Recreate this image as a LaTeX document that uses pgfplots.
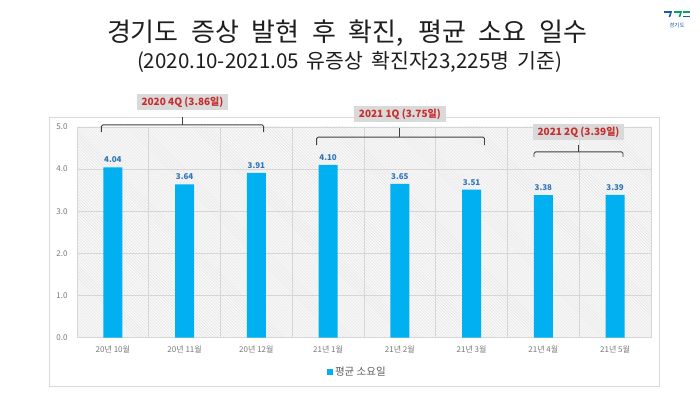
\documentclass[border=0pt]{standalone}
\usepackage{fontspec}
\setmainfont{Noto Sans CJK KR}
\usepackage{pgfplots}
\pgfplotsset{compat=1.18}
\usetikzlibrary{patterns}
\definecolor{barblue}{RGB}{0,176,240}
\definecolor{valblue}{RGB}{46,117,182}
\definecolor{qred}{RGB}{200,45,45}
\definecolor{boxgray}{RGB}{217,217,217}
\definecolor{gridgray}{RGB}{214,214,214}
\definecolor{framegray}{RGB}{217,217,217}
\definecolor{tickgray}{RGB}{120,120,120}
\definecolor{titlegray}{RGB}{30,30,30}
\definecolor{bggray}{RGB}{248,248,248}
\definecolor{hatchgray}{RGB}{226,226,226}
\definecolor{logoblue}{RGB}{30,90,170}
\definecolor{logogreen}{RGB}{0,165,100}
\begin{document}
\begin{tikzpicture}
\path[use as bounding box] (0,0) rectangle (700bp,394bp);
\fill[white] (0,0) rectangle (700bp,394bp);
\draw[framegray, fill=white, line width=0.8bp] (49bp,8bp) rectangle (659bp,277bp);
% title
\node[font=\fontsize{26bp}{28bp}\selectfont, text=titlegray, inner sep=0pt] at (347bp,361bp) {\makebox[480bp][s]{경기도 증상 발현 후 확진, 평균 소요 일수}};
\node[font=\fontsize{20.5bp}{22bp}\selectfont, text=titlegray, inner sep=0pt] at (349.5bp,332bp) {\makebox[425bp][s]{(2020.10-2021.05 유증상 확진자23,225명 기준)}};
% logo
\draw[logoblue, line width=1.6bp] (664bp,382bp) -- (671bp,382bp) -- (669.5bp,377bp);
\draw[logogreen, line width=1.6bp] (674bp,382bp) -- (681bp,382bp) -- (679.5bp,377bp);
\draw[logogreen, line width=1.6bp] (683bp,382bp) -- (690bp,382bp);
\draw[logoblue, line width=1.6bp] (683bp,377.5bp) -- (690bp,377.5bp);
\node[font=\fontsize{5.5bp}{6bp}\selectfont, text=logoblue, inner sep=0pt] at (677bp,369bp) {경기도};
\begin{axis}[
  at={(77bp,56.5bp)}, anchor=south west,
  scale only axis, width=574bp, height=210.5bp,
  xmin=-0.5, xmax=7.5, ymin=0, ymax=5,
  ybar, bar width=19bp, clip=false,
  xtick={0,...,7},
  xticklabels={20년 10월,20년 11월,20년 12월,21년 1월,21년 2월,21년 3월,21년 4월,21년 5월},
  minor xtick={0.5,1.5,...,6.5},
  ytick={0,...,5},
  major tick length=0pt, minor tick length=0pt,
  xminorgrids, ymajorgrids,
  grid style={gridgray, line width=0.6bp},
  minor grid style={gridgray, line width=0.6bp},
  axis line style={gridgray, line width=0.6bp},
  axis background/.style={fill=bggray, postaction={pattern=north west lines, pattern color=hatchgray}},
  yticklabel style={font=\fontsize{8bp}{9bp}\selectfont, text=tickgray, xshift=-6bp,
    /pgf/number format/.cd, fixed, fixed zerofill, precision=1, assume math mode=true},
  xticklabel style={font=\fontsize{8bp}{9bp}\selectfont, text=tickgray, yshift=-5bp},
  nodes near coords={\pgfmathprintnumber[fixed,fixed zerofill,precision=2,assume math mode=true]{\pgfplotspointmeta}},
  nodes near coords style={font=\bfseries\fontsize{8bp}{9bp}\selectfont, text=valblue, yshift=1bp},
  legend style={at={(axis description cs:0.488,-0.164)}, anchor=center, draw=none, fill=none,
    font=\fontsize{10.5bp}{12bp}\selectfont, text=tickgray!80!black},
  legend image code/.code={\fill[barblue] (0bp,-3bp) rectangle (6.5bp,3.5bp);},
]
\addplot[fill=barblue, draw=none] coordinates {(0,4.04) (1,3.64) (2,3.91) (3,4.10) (4,3.65) (5,3.51) (6,3.38) (7,3.39)};
\addlegendentry{평균 소요일}
\tikzset{brk/.style={draw=black!75, line width=0.9bp, rounded corners=1.5bp},
  qlab/.style={fill=boxgray, text=qred, font=\bfseries\fontsize{10bp}{12bp}\selectfont, inner xsep=5bp, inner ysep=2.5bp}}
\draw[brk] (axis cs:-0.16,4.88) -- (axis cs:-0.16,5.05) -- (axis cs:2.10,5.05) -- (axis cs:2.10,4.88);
\draw[brk] (axis cs:0.97,5.05) -- (axis cs:0.97,5.24);
\node[qlab] at (axis cs:0.97,5.59) {2020 4Q (3.86일)};
\draw[brk] (axis cs:2.84,4.57) -- (axis cs:2.84,4.76) -- (axis cs:5.18,4.76) -- (axis cs:5.18,4.57);
\draw[brk] (axis cs:4.0,4.76) -- (axis cs:4.0,4.98);
\node[qlab] at (axis cs:4.0,5.31) {2021 1Q (3.75일)};
\draw[brk] (axis cs:5.87,4.29) -- (axis cs:5.87,4.41) -- (axis cs:7.11,4.41) -- (axis cs:7.11,4.29);
\draw[brk] (axis cs:6.49,4.41) -- (axis cs:6.49,4.57);
\node[qlab] at (axis cs:6.49,4.88) {2021 2Q (3.39일)};
\end{axis}
\end{tikzpicture}
\end{document}
